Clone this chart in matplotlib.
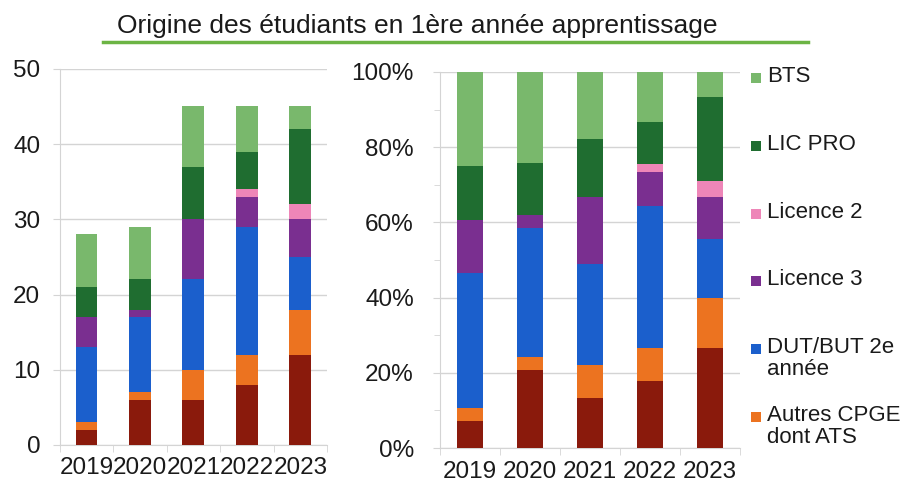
import matplotlib
matplotlib.use("Agg")
import matplotlib.pyplot as plt
import numpy as np
from matplotlib.ticker import PercentFormatter, MultipleLocator
from matplotlib.lines import Line2D
from matplotlib.patches import Rectangle

plt.rcParams['font.family'] = ['Liberation Sans', 'DejaVu Sans']

years = ["2019", "2020", "2021", "2022", "2023"]
series_names = ["CPGE", "Autres CPGE\ndont ATS", "DUT/BUT 2e\nannée", "Licence 3",
                "Licence 2", "LIC PRO", "BTS"]
cpge = [2, 6, 6, 8, 12]
autres_cpge = [1, 1, 4, 4, 6]
dut_but = [10, 10, 12, 17, 7]
licence3 = [4, 1, 8, 4, 5]
licence2 = [0, 0, 0, 1, 2]
lic_pro = [4, 4, 7, 5, 10]
bts = [7, 7, 8, 6, 3]
colors = ["#8a1a0c", "#ec7320", "#1b5fcc", "#7a2f90", "#ee86b8", "#1f6d30", "#79b86c"]
title = "Origine des étudiants en 1ère année apprentissage"

data = np.array([cpge, autres_cpge, dut_but, licence3, licence2, lic_pro, bts], dtype=float)
pct = data / data.sum(axis=0) * 100

W, H = 906, 486
fig = plt.figure(figsize=(W / 100, H / 100), dpi=100)
ax1 = fig.add_axes([0.066, 0.0844, 0.295, 0.774])
ax2 = fig.add_axes([0.486, 0.078, 0.331, 0.774])

x = np.arange(len(years))
grid_c = "#d4d4d4"
txt_c = "#1a1a1a"

for ax, vals, w in [(ax1, data, 0.41), (ax2, pct, 0.43)]:
    bottom = np.zeros(len(years))
    for i, (row, c) in enumerate(zip(vals, colors)):
        ax.bar(x, row, w, bottom=bottom, color=c, edgecolor='none', zorder=3)
        bottom += row
    ax.set_xlim(-0.5, len(years) - 0.5)
    ax.set_xticks(x)
    ax.set_xticklabels(years)
    ax.set_xticks(np.arange(-0.5, len(years), 1.0), minor=True)
    ax.tick_params(axis='x', which='major', length=0, labelsize=17.5, colors=txt_c, pad=9)
    ax.tick_params(axis='x', which='minor', length=5, color=grid_c)
    ax.tick_params(axis='y', which='both', color=grid_c, labelsize=17.5, labelcolor=txt_c)
    ax.grid(axis='y', color=grid_c, linewidth=1, zorder=0)
    for s in ['top', 'right']:
        ax.spines[s].set_visible(False)
    for s in ['left', 'bottom']:
        ax.spines[s].set_color(grid_c)

ax1.set_ylim(0, 50)
ax1.set_yticks([0, 10, 20, 30, 40, 50])
ax1.tick_params(axis='y', length=5, pad=9)

ax2.set_ylim(0, 100)
ax2.set_yticks([0, 20, 40, 60, 80, 100])
ax2.yaxis.set_minor_locator(MultipleLocator(10))
ax2.yaxis.set_major_formatter(PercentFormatter(decimals=0))
ax2.tick_params(axis='y', which='major', length=5, pad=14)
ax2.tick_params(axis='y', which='minor', length=4)

# legend (drawn manually to mimic evenly spaced entries)
leg_order = list(range(6, 0, -1))
y0_px, step_px = 78, 67.8
for k, i in enumerate(leg_order):
    yc = 1 - (y0_px + k * step_px) / H
    sq = 10
    fig.add_artist(Rectangle(((751) / W, yc - sq / 2 / H), sq / W, sq / H,
                             transform=fig.transFigure, facecolor=colors[i],
                             edgecolor='none'))
    fig.text(767 / W, yc + 12 / H, series_names[i], ha='left', va='top',
             fontsize=16, color=txt_c, linespacing=1.05)

fig.text(0.46, 0.947, title, ha='center', va='center', fontsize=19, color=txt_c)
fig.add_artist(Line2D([103 / W, 808 / W], [0.913, 0.913], transform=fig.transFigure,
                      color="#6cb444", linewidth=2.5))

fig.savefig("out.png", dpi=100)
